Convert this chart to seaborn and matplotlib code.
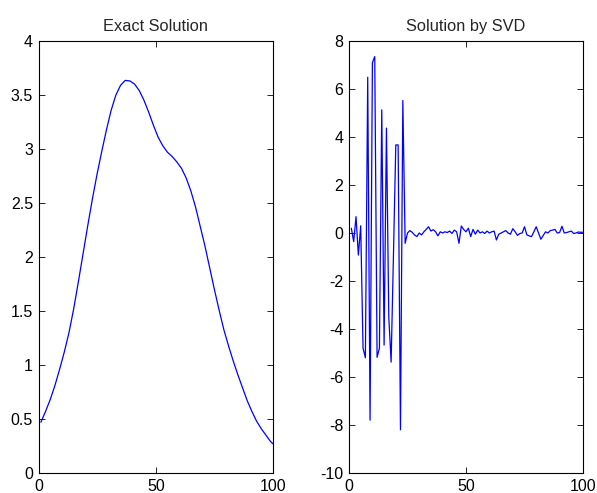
import matplotlib
matplotlib.use("Agg")
import matplotlib.pyplot as plt
import seaborn as sns

# ----- Data -----
exact_x = list(range(1, 101, 2)) + [100]
exact_y = [0.47, 0.57, 0.68, 0.81, 0.96, 1.12, 1.30, 1.52, 1.77, 2.03,
           2.29, 2.54, 2.77, 2.98, 3.18, 3.36, 3.50, 3.59, 3.635, 3.63,
           3.60, 3.54, 3.45, 3.34, 3.22, 3.11, 3.03, 2.97, 2.93, 2.88,
           2.82, 2.73, 2.61, 2.46, 2.28, 2.10, 1.90, 1.70, 1.51, 1.33,
           1.18, 1.04, 0.91, 0.79, 0.67, 0.57, 0.48, 0.41, 0.35, 0.29,
           0.27]

svd_x = list(range(1, 101))
svd_y = [0.2, -0.36, 0.68, -0.92, 0.3, -4.8, -5.2, 6.49, -7.8, 7.1,
         7.35, -5.18, -4.8, 5.13, -4.67, 4.37, -3.5, -5.38, -0.9, 3.67,
         3.67, -8.2, 5.52, -0.43, 0.0, 0.10, 0.03, -0.08, -0.15, 0.0,
         -0.08, 0.05, 0.15, 0.26, 0.08, 0.14, 0.05, -0.12, 0.05, 0.0,
         0.05, 0.02, 0.08, -0.02, 0.12, 0.05, -0.43, 0.29, 0.15, 0.05,
         0.2, -0.15, 0.15, -0.05, 0.12, 0.0, 0.05, -0.02, 0.08, 0.0,
         0.05, 0.08, -0.29, -0.05, 0.0, 0.05, 0.1, 0.0, -0.05, 0.18,
         0.05, -0.1, -0.02, 0.0, 0.26, -0.08, -0.12, -0.15, 0.05, 0.26,
         0.0, -0.26, -0.1, 0.05, 0.0, 0.1, 0.12, 0.15, 0.0, 0.02,
         0.28, 0.0, 0.02, 0.05, 0.08, -0.02, 0.0, 0.04, 0.03, 0.03]

x_ticks = [0, 50, 100]
exact_yticks = [0, 0.5, 1, 1.5, 2, 2.5, 3, 3.5, 4]
exact_yticklabels = ["0", "0.5", "1", "1.5", "2", "2.5", "3", "3.5", "4"]
svd_yticks = [-10, -8, -6, -4, -2, 0, 2, 4, 6, 8]

# ----- Style -----
sns.set_style("ticks")
plt.rcParams.update({
    "font.family": ["Liberation Sans", "DejaVu Sans"],
    "font.size": 11.5,
    "axes.unicode_minus": False,
    "xtick.direction": "in",
    "ytick.direction": "in",
    "xtick.top": True,
    "ytick.right": True,
    "xtick.major.size": 4,
    "ytick.major.size": 4,
    "xtick.major.width": 0.6,
    "ytick.major.width": 0.6,
    "axes.linewidth": 0.8,
    "axes.edgecolor": "black",
    "xtick.color": "black",
    "ytick.color": "black",
})

W, H = 597, 493
fig = plt.figure(figsize=(W / 100, H / 100), dpi=100)
fig.patch.set_facecolor("white")


def px_axes(left, top, right, bottom):
    return fig.add_axes([left / W, 1 - bottom / H, (right - left) / W, (bottom - top) / H])


line_color = "#0000ff"

# ----- Left: exact solution -----
ax1 = px_axes(38.5, 41, 273, 473)
sns.lineplot(x=exact_x, y=exact_y, ax=ax1, color=line_color, linewidth=0.9)
ax1.set_xlim(0, 100)
ax1.set_ylim(0, 4)
ax1.set_xticks(x_ticks)
ax1.set_yticks(exact_yticks)
ax1.set_yticklabels(exact_yticklabels)
ax1.set_title("Exact Solution", fontsize=11.8, pad=7)

# ----- Right: SVD solution -----
ax2 = px_axes(349, 41, 583, 473)
sns.lineplot(x=svd_x, y=svd_y, ax=ax2, color=line_color, linewidth=0.9)
ax2.set_xlim(0, 100)
ax2.set_ylim(-10, 8)
ax2.set_xticks(x_ticks)
ax2.set_yticks(svd_yticks)
ax2.set_title("Solution by SVD", fontsize=11.8, pad=7)

for ax in (ax1, ax2):
    ax.tick_params(labelsize=11.5, pad=4)
    for spine in ax.spines.values():
        spine.set_visible(True)

fig.savefig("out.png", dpi=100, facecolor="white")
